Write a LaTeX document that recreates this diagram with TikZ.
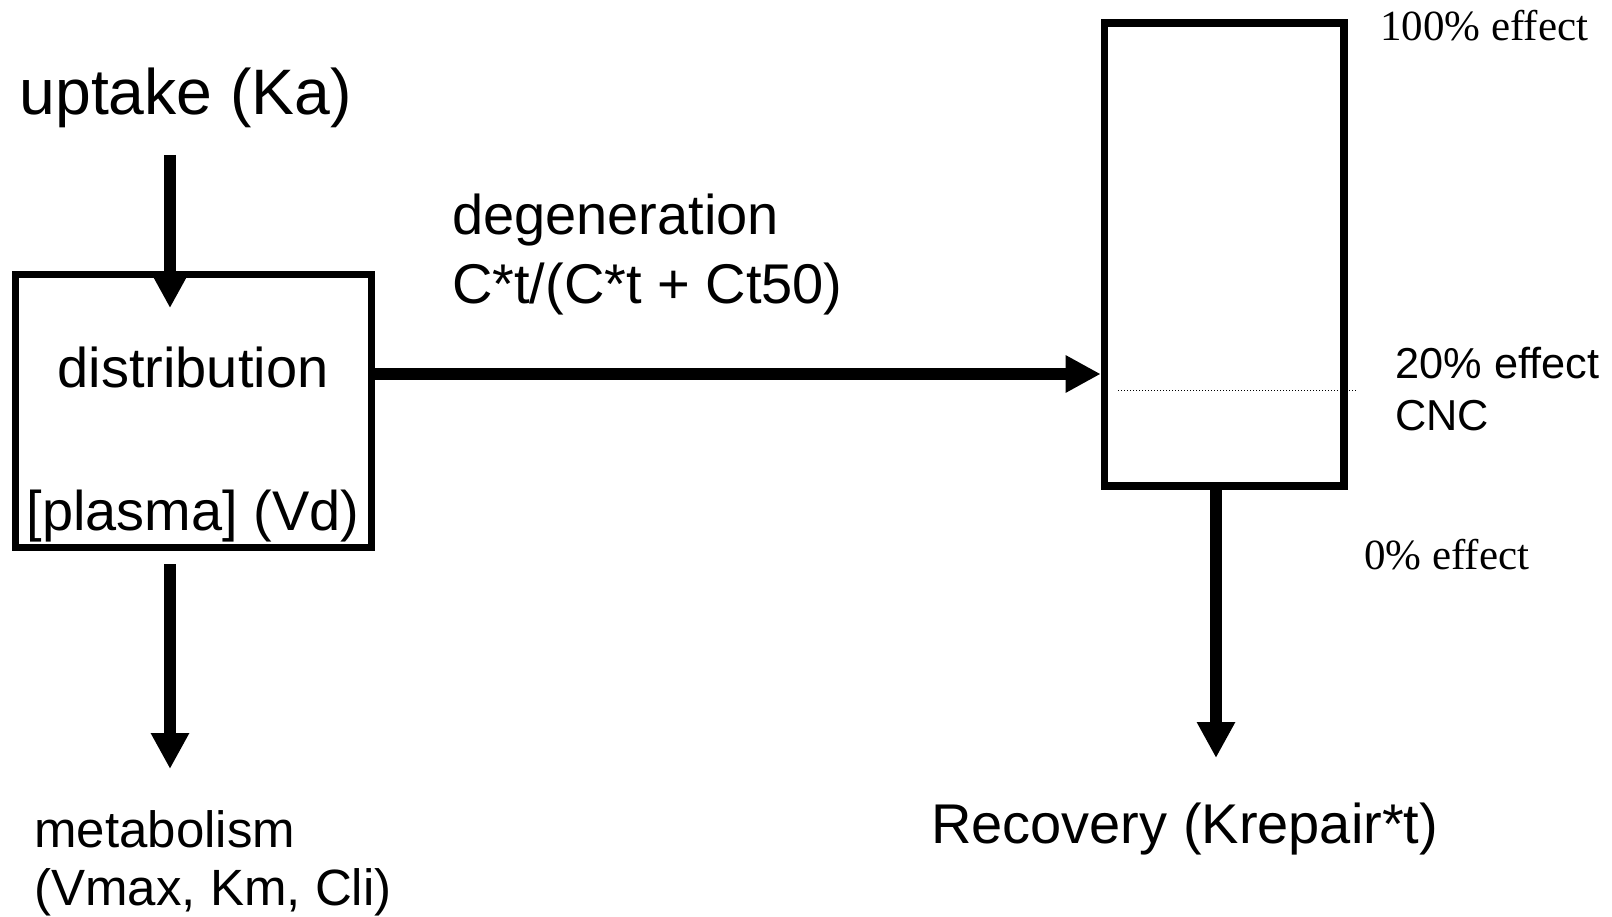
\documentclass[tikz,border=0pt]{standalone}
\usepackage{fontspec}
\setmainfont{Liberation Sans}
\newfontfamily\timesf{Liberation Serif}
\usetikzlibrary{arrows.meta}
\begin{document}
\begin{tikzpicture}[x=1pt,y=-1pt,
  lbl/.style={inner sep=0pt, outer sep=0pt, anchor=base west},
  clbl/.style={inner sep=0pt, outer sep=0pt, anchor=base},
  boxst/.style={draw=black, line width=7pt, inner sep=0pt},
  flow/.style={draw=black, line width=12pt, -{Triangle[width=36pt,length=36pt]}},
  dotline/.style={draw=black, line width=1.3pt, dash pattern=on 1.3pt off 1.7pt}]
\useasboundingbox (0,0) rectangle (1612,917);
\fill[white] (0,0) rectangle (1612,917);

% texts
\node[lbl, font=\fontsize{64.3}{74}\selectfont] (uptake) at (19.5,115) {uptake (Ka)};
\node[lbl, font=\fontsize{56}{64}\selectfont] (deg1) at (452,235) {degeneration};
\node[lbl, font=\fontsize{56}{64}\selectfont] (deg2) at (452,304) {C*t/(C*t + Ct50)};
\node[lbl, font=\fontsize{51}{58}\selectfont] (met1) at (34.5,847) {metabolism};
\node[lbl, font=\fontsize{51}{58}\selectfont] (met2) at (34.5,905) {(Vmax, Km, Cli)};
\node[lbl, font=\fontsize{56}{64}\selectfont] (rec) at (931,843) {Recovery (Krepair*t)};
\node[lbl, font=\timesf\fontsize{43}{50}\selectfont] (e100) at (1380,41) {100\% effect};
\node[lbl, font=\fontsize{43.3}{50}\selectfont] (e20) at (1395.7,378) {20\% effect};
\node[lbl, font=\fontsize{43.3}{50}\selectfont] (cnc) at (1395,430) {CNC};
\node[lbl, font=\timesf\fontsize{43}{50}\selectfont] (e0) at (1364,569) {0\% effect};

% boxes
\node[boxst, minimum width=356pt, minimum height=273pt] (dist) at (193.5,411) {};
\node[clbl, font=\fontsize{56}{64}\selectfont] (distt) at (193,387) {distribution};
\node[clbl, font=\fontsize{55.9}{64}\selectfont] (plas) at (193,530) {[plasma] (Vd)};
\node[boxst, line width=7.5pt, minimum width=239.5pt, minimum height=463.4pt] (eff) at (1224.2,254.5) {};

% dotted 20% line
\coordinate (dA) at (1118,390.5);
\coordinate (dB) at (1357,390.5);
\draw[dotline] (dA) -- (dB);

% connectors
\coordinate (upS) at (170,155);
\coordinate (upE) at (170,308);
\draw[flow, -{Triangle[width=31pt,length=31pt]}] (upS) -- (upE);

\coordinate (hy) at (0,374);
\draw[flow, -{Triangle[width=35pt,length=35pt]}] (dist.east |- hy) -- (eff.west |- hy);

\coordinate (mS) at (170,564);
\coordinate (mE) at (170,769);
\draw[flow] (mS) -- (mE);

\coordinate (rx) at (1216,0);
\coordinate (rE) at (1216,758);
\draw[flow] (eff.south -| rx) -- (rE);
\end{tikzpicture}
\end{document}
